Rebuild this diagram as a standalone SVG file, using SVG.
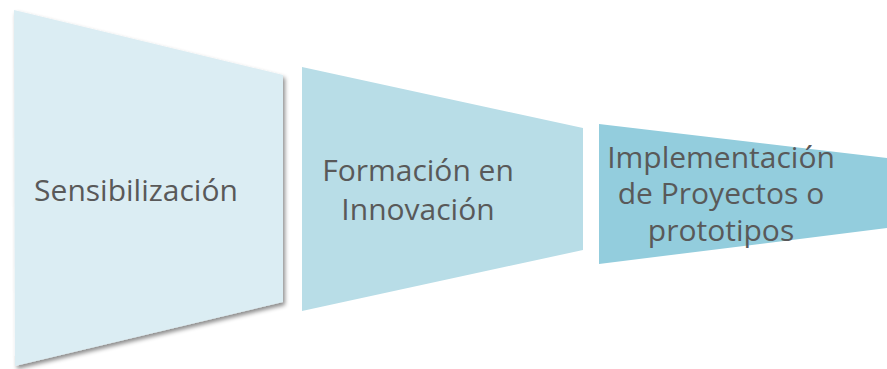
<svg xmlns="http://www.w3.org/2000/svg" width="887" height="369" viewBox="0 0 887 369">
<defs>
<style>
.lbl{font-family:"Open Sans","Noto Sans","Liberation Sans",sans-serif;font-size:30px;fill:#595959;text-anchor:middle}
</style>
<filter id="sh" x="-10%" y="-10%" width="120%" height="120%">
<feDropShadow dx="2" dy="3" stdDeviation="2" flood-color="#000" flood-opacity="0.45"/>
</filter>
</defs>
<rect width="887" height="369" fill="#fff"/>
<g id="node1">
<polygon points="14,10 283,75 283,302 15,366" fill="#dbedf3" filter="url(#sh)"/>
<text class="lbl" x="136" y="201">Sensibilización</text>
</g>
<g id="node2">
<polygon points="302,67 583,128 583,250 302,311" fill="#b8dde7"/>
<text class="lbl"><tspan x="418" y="181">Formación en</tspan><tspan x="418" y="220">Innovación</tspan></text>
</g>
<g id="node3">
<polygon points="599,124 887,158 887,228 599,264" fill="#93cddd"/>
<text class="lbl"><tspan x="721" y="168">Implementación</tspan><tspan x="721" y="204">de Proyectos o</tspan><tspan x="721" y="241">prototipos</tspan></text>
</g>
<g id="connectors"/>
</svg>
